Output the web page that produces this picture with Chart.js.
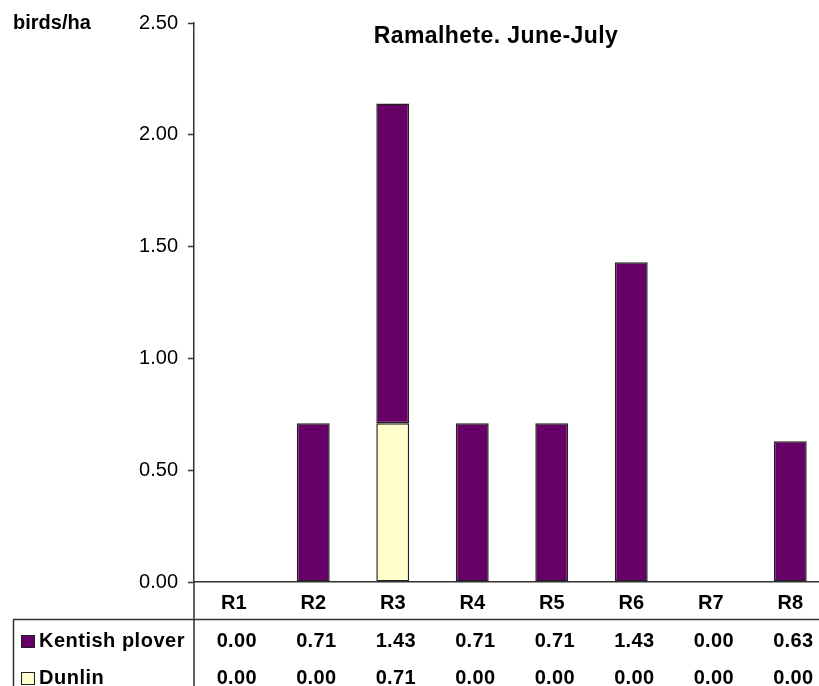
<!DOCTYPE html>
<html>
<head>
<meta charset="utf-8">
<script src="https://cdn.jsdelivr.net/npm/chart.js@4"></script>
<style>
  html, body { margin: 0; padding: 0; background: #fff; overflow: hidden; width: 819px; height: 686px; }
  canvas { display: block; }
</style>
</head>
<body>
<canvas id="birdChart" width="830" height="686"></canvas>
<script>
// Data
const categories = ['R1', 'R2', 'R3', 'R4', 'R5', 'R6', 'R7', 'R8'];
const kentishPlover = [0.00, 0.71, 1.43, 0.71, 0.71, 1.43, 0.00, 0.63];
const dunlin = [0.00, 0.00, 0.71, 0.00, 0.00, 0.00, 0.00, 0.00];
const yMin = 0, yMax = 2.5, yStep = 0.5;

const chartTitle = 'Ramalhete. June-July';
const unitLabel = 'birds/ha';
const FONT = 'Arial, "Liberation Sans", sans-serif';

// rows of the data table under the chart (top row first)
const tableRows = [
    { label: 'Kentish plover', values: kentishPlover, color: '#660066' },
    { label: 'Dunlin', values: dunlin, color: '#FFFFCC' },
];

// Title, unit label and data table are drawn by hand
const extrasPlugin = {
    id: 'extras',
    afterDraw(chart) {
        const ctx = chart.ctx;
        const x = chart.scales.x;
        const area = chart.chartArea;
        ctx.save();

        ctx.fillStyle = '#000';
        ctx.textBaseline = 'alphabetic';
        ctx.font = 'bold 23px ' + FONT;
        ctx.letterSpacing = '0.4px';
        ctx.textAlign = 'center';
        ctx.fillText(chartTitle, 496, 43);

        ctx.font = 'bold 20px ' + FONT;
        ctx.letterSpacing = '0px';
        ctx.textAlign = 'left';
        ctx.fillText(unitLabel, 13, 29);

        // table lines
        ctx.strokeStyle = '#333';
        ctx.lineWidth = 1.5;
        ctx.beginPath();
        ctx.moveTo(13, 619.5);
        ctx.lineTo(chart.width, 619.5);
        ctx.moveTo(13.5, 619.5);
        ctx.lineTo(13.5, 686);
        ctx.moveTo(area.left, area.bottom);
        ctx.lineTo(area.left, 686);
        ctx.stroke();

        // table rows
        const rowY = [641, 678];
        tableRows.forEach((row, r) => {
            const y = rowY[r];
            ctx.fillStyle = row.color;
            ctx.fillRect(21, y - 6, 14, 13);
            ctx.strokeStyle = '#222';
            ctx.lineWidth = 1;
            ctx.strokeRect(21.5, y - 5.5, 13, 12);

            ctx.fillStyle = '#000';
            ctx.font = 'bold 20px ' + FONT;
            ctx.textBaseline = 'middle';
            ctx.textAlign = 'left';
            ctx.letterSpacing = '0.5px';
            ctx.fillText(row.label, 39, y);

            ctx.textAlign = 'center';
            ctx.letterSpacing = '0.3px';
            row.values.forEach((v, i) => {
                ctx.fillText(v.toFixed(2), x.getPixelForValue(i) + 3, y);
            });
        });

        ctx.restore();
    }
};

const ctx = document.getElementById('birdChart').getContext('2d');
const birdChart = new Chart(ctx, {
    type: 'bar',
    data: {
        labels: categories,
        datasets: [
            {
                label: 'Dunlin',
                data: dunlin,
                backgroundColor: '#FFFFCC',
                borderColor: '#222',
                borderWidth: 1.5,
                borderSkipped: false,
            },
            {
                label: 'Kentish plover',
                data: kentishPlover,
                backgroundColor: '#660066',
                borderColor: '#222',
                borderWidth: 1.5,
                borderSkipped: false,
            },
        ],
    },
    options: {
        responsive: false,
        animation: false,
        layout: { padding: { top: 23, left: 0, right: 0, bottom: 0 } },
        datasets: {
            bar: { categoryPercentage: 1.0, barPercentage: 0.414 },
        },
        scales: {
            x: {
                stacked: true,
                grid: { display: false, drawTicks: false },
                border: { display: true, color: '#333', width: 1.5 },
                ticks: {
                    color: '#000',
                    padding: 9,
                    font: { family: FONT, size: 20, weight: 'bold' },
                },
                afterFit(scale) { scale.height = 104; },
            },
            y: {
                stacked: true,
                min: yMin,
                max: yMax,
                grid: {
                    drawOnChartArea: false,
                    drawTicks: true,
                    tickLength: 6,
                    tickColor: '#333',
                    tickWidth: 1.5,
                },
                border: { display: true, color: '#333', width: 1.5 },
                ticks: {
                    stepSize: yStep,
                    color: '#000',
                    padding: 10,
                    font: { family: FONT, size: 20 },
                    callback: (v) => Number(v).toFixed(2),
                },
                afterFit(scale) { scale.width = 194; },
            },
        },
        plugins: {
            legend: { display: false },
            tooltip: { enabled: false },
            title: { display: false },
        },
    },
    plugins: [extrasPlugin],
});
</script>
</body>
</html>
